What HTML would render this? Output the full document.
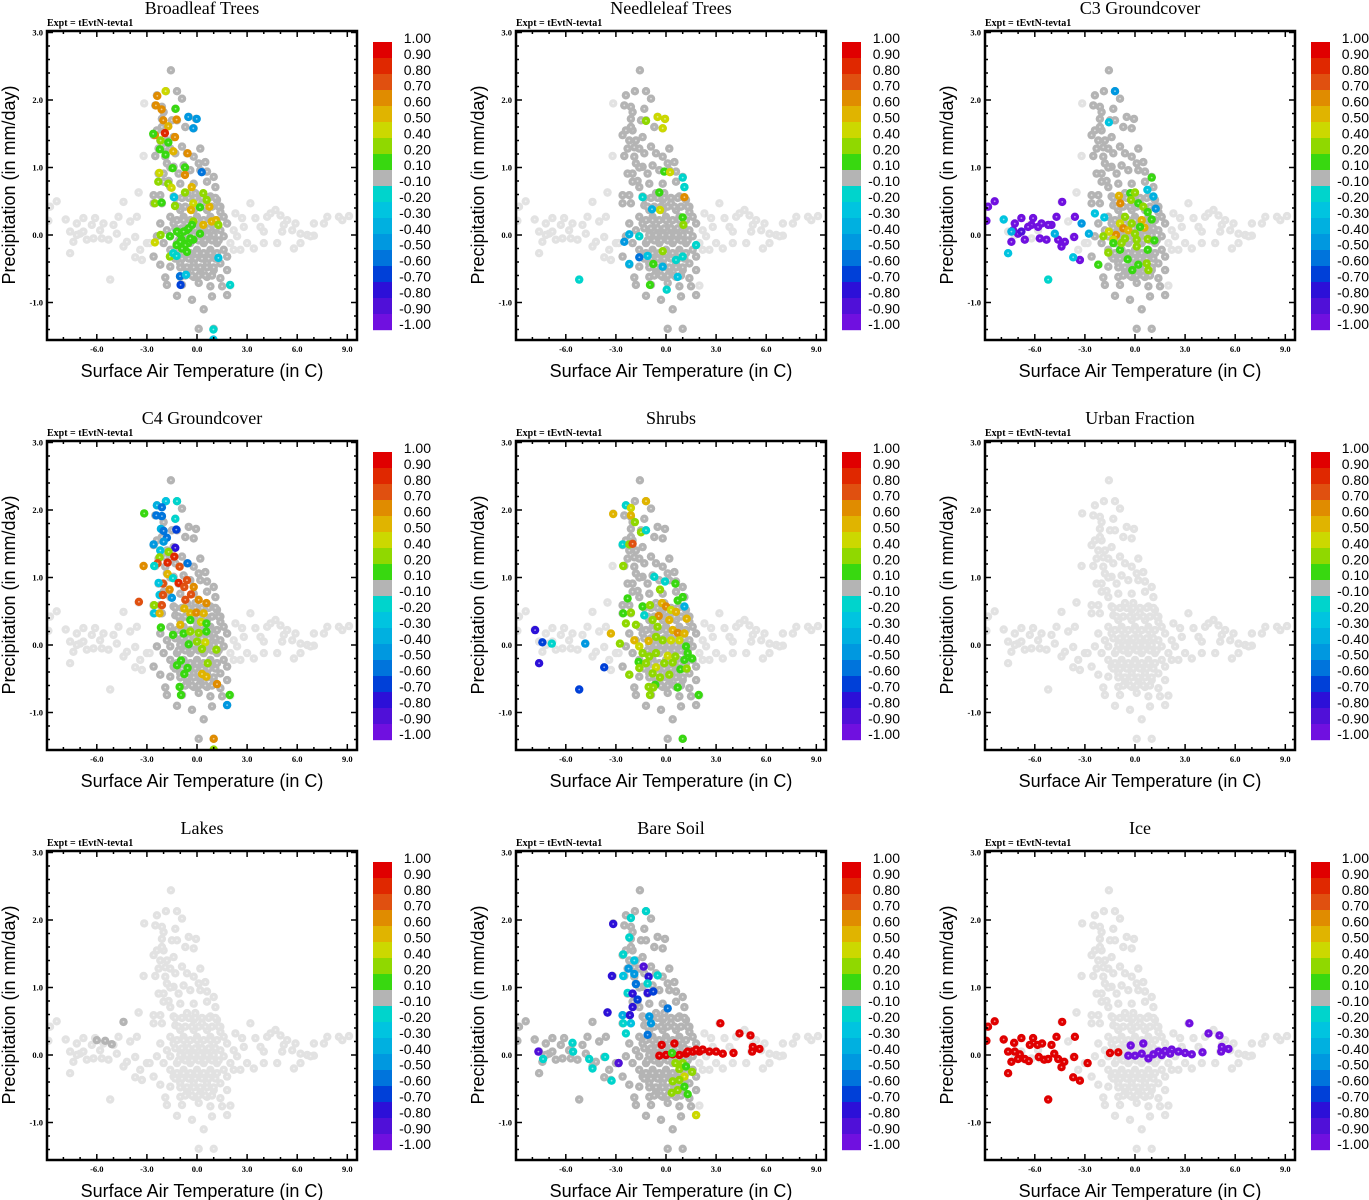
<!DOCTYPE html>
<html><head><meta charset="utf-8"><title>Surface Air Temperature vs Precipitation panels</title>
<style>
html,body{margin:0;padding:0;background:#fff;}
svg{display:block;}
.ttl{font-family:"Liberation Serif",serif;font-size:18px;}
.expt{font-family:"Liberation Serif",serif;font-size:10px;font-weight:bold;}
.tick{font-family:"Liberation Serif",serif;font-size:8.5px;font-weight:bold;}
.axt{font-family:"Liberation Sans",sans-serif;font-size:18px;}
.cbl{font-family:"Liberation Sans",sans-serif;font-size:14px;}
</style></head>
<body>
<svg id="fig" width="1369" height="1200" viewBox="0 0 1369 1200" xmlns="http://www.w3.org/2000/svg"></svg>
<script>
// ---- data ----
const panelTitles = ["Broadleaf Trees","Needleleaf Trees","C3 Groundcover","C4 Groundcover","Shrubs","Urban Fraction","Lakes","Bare Soil","Ice"];
const xTicks = [-6,-3,0,3,6,9];
const xTickLabels = ["-6.0","-3.0","0.0","3.0","6.0","9.0"];
const yTicks = [3,2,1,0,-1];
const yTickLabels = ["3.0","2.0","1.0","0.0","-1.0"];
const cbBounds = [1.0,0.9,0.8,0.7,0.6,0.5,0.4,0.2,0.1,-0.1,-0.2,-0.3,-0.4,-0.5,-0.6,-0.7,-0.8,-0.9,-1.0];
const cbLabels = ["1.00","0.90","0.80","0.70","0.60","0.50","0.40","0.20","0.10","-0.10","-0.20","-0.30","-0.40","-0.50","-0.60","-0.70","-0.80","-0.90","-1.00"];
const cbColors = ["#e00000","#e02800","#e05010","#e08c00","#e0b400","#ccd800","#90d800","#38d810","#b4b4b4","#00d4cc","#00c4e0","#00b0e0","#0098e0","#0074dc","#0040d8","#2c10d8","#5010d8","#7010e0"];

// base cloud (temperature C, precipitation mm/day) shown light grey in every panel
const baseT = [-1.56,-1.86,-1.2,-2.4,-0.9,-3.16,-2.5,-2.1,-1.3,-2.0,-2.1,-1.5,-0.5,-0.06,-1.2,-0.7,-0.2,-2.4,-2.0,-2.6,-1.4,-2.2,-1.8,-2.3,-1.6,-0.9,0.2,-1.3,-0.6,-3.2,-2.5,-1.9,-0.2,-1.8,-1.4,-0.8,0.1,0.5,-2.3,-2.0,-1.1,-0.4,0.2,0.6,1.0,-2.0,-1.6,-1.0,-0.2,0.6,1.1,-3.5,-2.6,-2.2,-1.4,-0.6,-0.1,0.8,-2.6,-2.1,-1.3,-0.2,0.3,1.2,1.4,
-1.0,-0.2,0.6,1.4,-1.6,-0.8,0.0,0.8,1.6,-2.2,-1.4,-0.6,0.2,1.0,1.8,-1.8,-1.0,-0.2,0.6,1.4,2.2,-2.4,-1.6,-0.8,0.0,0.8,1.6,-2.0,-1.2,-0.4,0.4,1.2,2.0,-1.6,-0.8,0.0,0.8,1.6,2.2,-1.4,-0.6,0.2,1.0,1.8,-1.0,-0.2,0.6,1.4,-2.2,-1.6,-0.6,0.2,1.0,1.8,-1.9,-1.0,-0.2,0.6,1.4,-1.8,-0.9,0.1,0.8,1.5,2.0,-1.2,-0.3,0.9,1.8,0.4,0.1,1.0,-3.4,-3.0,-2.6,-3.5,
-8.8,-8.4,-7.86,-8.9,-7.6,-7.2,-6.8,-7.4,-7.0,-6.6,-6.3,-6.1,-5.8,-5.6,-5.7,-5.3,-5.0,-4.8,-4.7,-4.4,-4.4,-4.2,-7.6,-5.2,-4.0,-3.6,-3.7,-3.3,-2.84,-3.7,-6.8,-6.2,-7.2,
2.3,2.7,3.2,3.5,3.8,4.2,4.4,4.7,5.0,5.2,5.4,5.7,5.9,6.2,5.8,6.2,6.6,7.0,7.6,7.8,8.5,8.7,9.1,4.8,4.0,3.0,2.6,3.4,2.4,2.8,4.0,5.1,7.0,6.8,
-1.3,-0.9,-0.5,-0.1,0.3,0.7,1.1,-1.1,-0.7,-0.3,0.1,0.5,0.9,1.3,-1.3,-0.9,-0.5,-0.1,0.3,0.7,1.1,-1.1,-0.7,-0.3,0.1,0.5,0.9,1.3,-1.3,-0.9,-0.5,-0.1,0.3,0.7,1.1,-0.7,-0.3,0.1,0.5,0.9,
-1.2,-0.8,-0.4,0.0,0.4,0.8,1.2,-1.0,-0.6,-0.2,0.2,0.6,1.0,-1.2,-0.8,-0.4,0.0,0.4,0.8,1.2,-1.0,-0.6,-0.2,0.2,0.6,1.0,-1.6,-1.9,-1.7,-2.1];
const baseP = [2.44,2.13,2.13,2.07,2.02,1.95,1.92,1.90,1.87,1.82,1.72,1.70,1.75,1.72,1.70,1.60,1.58,1.55,1.55,1.48,1.45,1.40,1.40,1.28,1.28,1.31,1.28,1.21,1.21,1.17,1.17,1.16,1.16,1.06,1.01,1.03,1.06,1.08,0.91,0.91,0.91,0.96,0.96,0.94,0.86,0.79,0.71,0.76,0.76,0.79,0.71,0.63,0.59,0.59,0.57,0.62,0.62,0.57,0.47,0.47,0.44,0.52,0.47,0.52,0.42,
0.37,0.37,0.37,0.34,0.27,0.27,0.27,0.27,0.27,0.17,0.17,0.17,0.17,0.17,0.17,0.07,0.07,0.07,0.07,0.07,0.07,-0.02,-0.02,-0.02,-0.02,-0.02,-0.02,-0.12,-0.12,-0.12,-0.12,-0.12,-0.12,-0.22,-0.22,-0.22,-0.22,-0.22,-0.22,-0.32,-0.32,-0.32,-0.32,-0.32,-0.42,-0.42,-0.42,-0.42,-0.44,-0.47,-0.52,-0.52,-0.52,-0.52,-0.63,-0.62,-0.62,-0.62,-0.64,-0.74,-0.74,-0.71,-0.76,-0.76,-0.75,-0.90,-0.96,-0.91,-0.89,-1.10,-1.39,-1.39,-0.22,-0.12,-0.32,0.63,
0.42,0.50,0.23,0.21,0.05,0.17,0.25,-0.10,0.02,-0.07,0.15,0.25,0.07,0.17,-0.05,-0.07,0.15,0.02,0.27,0.49,-0.17,-0.10,-0.27,-0.66,0.20,0.27,-0.03,-0.37,-0.12,-0.33,0.05,-0.05,0.0,
0.32,0.25,0.47,0.25,0.12,0.27,0.32,0.37,0.29,0.15,0.22,0.07,0.17,0.02,-0.20,-0.12,0.0,0.17,0.17,0.27,0.27,0.22,0.28,-0.12,-0.12,-0.12,-0.22,-0.20,-0.02,0.12,0.05,0.05,-0.01,-0.02,
0.55,0.55,0.55,0.55,0.55,0.55,0.55,0.42,0.42,0.42,0.42,0.42,0.42,0.42,0.1,0.1,0.1,0.1,0.1,0.1,0.1,-0.08,-0.08,-0.08,-0.08,-0.08,-0.08,-0.08,-0.35,-0.35,-0.35,-0.35,-0.35,-0.35,-0.35,-0.6,-0.6,-0.6,-0.6,-0.6,
0.22,0.22,0.22,0.22,0.22,0.22,0.22,0.0,0.0,0.0,0.0,0.0,0.0,-0.27,-0.27,-0.27,-0.27,-0.27,-0.27,-0.27,-0.48,-0.48,-0.48,-0.48,-0.48,-0.48,1.0,1.3,0.8,1.6];

// per-panel coloured points: temperature, precipitation, correlation value
const p1T = [-2.38,-1.88,-2.46,-2.12,-1.28,-2.02,-1.22,-1.72,-1.92,-2.52,-1.32,-2.62,-2.18,-1.72,-2.22,-1.42,-0.56,-1.88,-1.46,-0.72,-2.26,-0.72,-2.32,-1.72,-1.52,-0.32,-2.52,-2.12,-1.32,-0.72,0.38,-0.22,-0.36,0.18,0.74,0.58,-0.22,0.38,0.88,1.14,1.28,-2.52,-2.18,-1.62,-1.02,-0.62,-0.92,-0.52,-0.22,0.18,-1.22,-1.62,-0.52,-0.02,-0.22,0.28,-1.38,-1.42,-1.22,1.28,-1.02,-0.66,-0.98,1.98,0.98,0.98,-1.0,-0.7,-0.4,-0.8,-0.5,-1.2,-0.3,-0.9,-0.6];
const p1P = [2.06,2.13,1.92,1.86,1.87,1.70,1.71,1.61,1.51,1.48,1.45,1.50,1.40,1.37,1.27,1.24,1.21,1.19,0.99,1.00,0.92,0.89,0.79,0.76,0.70,0.71,0.47,0.48,0.43,0.63,0.62,0.47,0.37,0.41,0.42,0.52,0.20,0.15,0.20,0.22,0.15,-0.11,0.0,-0.02,0.02,0.07,-0.07,-0.12,-0.07,0.02,-0.15,-0.32,1.75,1.72,1.58,0.93,0.56,-0.27,-0.31,-0.34,-0.61,-0.59,-0.74,-0.74,-1.40,-1.55,-0.1,-0.15,-0.05,0.05,0.1,0.05,0.15,-0.2,-0.25];
const p1V = [0.6,0.4,0.6,0.6,0.1,0.6,0.6,0.5,0.8,0.6,0.6,0.1,0.2,0.1,0.1,0.5,0.6,0.1,0.1,0.1,0.4,0.6,0.2,0.2,0.4,0.5,0.2,0.1,0.2,0.2,0.2,0.4,0.5,0.1,0.5,0.2,0.2,0.5,0.5,0.5,0.2,0.4,0.2,0.1,0.1,0.1,0.1,0.1,0.1,0.1,0.1,0.2,-0.5,-0.5,-0.5,-0.6,-0.3,-0.2,-0.2,-0.3,-0.6,-0.3,-0.7,-0.2,-0.2,-0.3,0.1,0.1,0.1,0.1,0.1,0.1,0.1,0.1,0.1];

const p2T = [-1.2,-0.5,-0.06,-0.2,-0.1,0.24,1.0,1.1,1.1,-0.4,-1.4,-0.36,-0.84,1.0,1.04,-2.2,-2.5,-1.6,-0.2,-2.2,-1.6,-0.76,-0.96,0.04,-5.2,0.6,1.0,-0.2,1.8,-1.1,0.7];
const p2P = [1.69,1.75,1.72,1.58,0.94,0.93,0.85,0.71,0.56,0.63,0.56,0.37,0.38,0.26,0.15,0.01,-0.10,-0.02,-0.24,-0.43,-0.33,-0.43,-0.74,-0.81,-0.66,-0.37,-0.32,-0.47,-0.15,-0.31,-0.62];
const p2V = [0.2,0.4,0.4,0.4,0.1,0.4,-0.2,-0.2,0.6,0.1,-0.2,0.4,-0.4,0.1,0.2,-0.4,-0.5,-0.2,0.2,-0.4,-0.6,0.1,0.1,-0.2,-0.2,-0.2,-0.2,-0.4,-0.2,-0.3,-0.3];

const p3T = [-8.8,-8.4,-8.9,-7.2,-6.8,-7.3,-7.0,-7.4,-6.6,-6.2,-6.1,-5.8,-5.6,-5.7,-5.3,-5.0,-4.7,-4.36,-4.6,-4.2,-4.4,-3.6,-3.64,-3.3,-6.8,-6.4,-5.2,
-7.86,-7.4,-7.6,-5.2,-4.8,-3.7,-2.76,-2.4,-1.84,-1.56,0.74,1.1,-1.2,-3.2,1.24,
1.0,-0.28,0.0,-0.24,0.2,0.5,0.76,1.0,-0.96,-0.88,-0.9,0.4,0.56,-0.7,-0.4,-1.14,-1.56,-1.9,-1.3,-0.6,0.0,0.1,0.76,1.16,-1.3,-0.9,-0.44,0.1,0.76,-1.6,-2.2,-0.16,0.2,0.7,0.8,-0.2,0.3,-0.6,-0.8];
const p3P = [0.42,0.50,0.21,0.17,0.25,0.07,0.02,-0.10,-0.07,0.15,0.25,0.12,0.17,-0.05,-0.07,0.15,0.27,0.49,-0.07,-0.10,-0.17,0.27,-0.03,-0.37,0.05,0.12,0.15,
0.23,0.05,-0.27,-0.66,0.02,-0.33,0.02,0.32,0.26,1.67,0.67,0.57,2.13,0.17,0.39,
0.85,0.62,0.63,0.52,0.47,0.42,0.34,0.23,0.58,0.47,0.17,0.22,0.11,0.10,0.07,0.0,0.05,-0.02,-0.07,-0.05,0.02,-0.07,-0.06,-0.08,-0.12,-0.22,-0.36,-0.17,-0.22,-0.26,-0.44,-0.52,-0.44,-0.42,-0.52,0.17,0.12,0.27,-0.12];
const p3V = [-0.95,-0.95,-0.95,-0.95,-0.95,-0.95,-0.95,-0.95,-0.95,-0.95,-0.95,-0.95,-0.95,-0.95,-0.95,-0.95,-0.95,-0.95,-0.95,-0.95,-0.95,-0.95,-0.95,-0.95,-0.9,-0.95,-0.95,
-0.3,-0.4,-0.3,-0.2,-0.4,-0.3,-0.4,-0.3,-0.3,-0.3,-0.3,-0.4,-0.5,-0.5,-0.5,
0.1,0.1,0.2,0.2,0.1,0.2,0.1,0.1,0.5,0.6,0.4,0.5,0.5,0.6,0.5,0.6,0.4,0.2,0.4,0.2,0.2,0.2,0.2,0.1,0.1,0.1,0.1,0.2,0.1,0.2,0.1,0.1,0.1,0.2,0.2,0.2,0.1,0.2,0.2];

const p4T = [-3.2,-3.16,-2.4,-1.86,-1.2,-2.1,-2.44,-2.1,-1.3,-2.16,-2.0,-1.24,-1.8,-2.0,-2.6,-2.2,-1.3,-1.7,-2.24,-1.36,-1.76,-2.36,-2.56,-1.04,-0.56,-1.76,-1.44,-1.1,-0.6,-0.2,-0.76,-2.04,-2.3,-1.64,-2.24,-2.04,-1.5,-0.36,-0.7,0.1,0.56,-3.48,-2.56,-2.1,-2.56,-2.24,-0.76,-0.4,-0.04,0.4,-1.0,-0.4,0.24,0.56,-2.16,-1.44,-0.8,-0.4,0.1,0.56,-0.5,0.0,0.5,0.3,1.16,-0.96,-1.2,-0.56,-0.76,0.64,0.3,0.56,1.2,-1.04,-0.96,1.96,1.8,1.0,1.0];
const p4P = [1.17,1.95,2.07,2.13,2.13,2.04,1.92,1.91,1.87,1.72,1.69,1.71,1.59,1.53,1.49,1.40,1.44,1.38,1.30,1.31,1.22,1.21,1.17,1.16,1.21,1.05,0.99,0.92,0.96,0.86,0.86,0.91,0.92,0.82,0.74,0.74,0.70,0.75,0.67,0.67,0.62,0.64,0.59,0.59,0.47,0.47,0.54,0.47,0.48,0.47,0.30,0.37,0.34,0.32,0.26,0.15,0.17,0.20,0.18,0.20,0.01,0.05,0.04,-0.06,-0.07,-0.23,-0.30,-0.34,-0.43,-0.27,-0.43,-0.47,-0.58,-0.62,-0.74,-0.74,-0.89,-1.39,-1.55];
const p4V = [0.6,0.1,-0.4,-0.3,-0.2,-0.6,-0.6,-0.6,-0.2,-0.4,-0.6,-0.7,-0.6,-0.5,-0.5,-0.3,-0.8,0.2,0.2,0.8,0.8,0.7,-0.2,0.7,-0.6,0.5,-0.2,0.8,0.7,0.6,0.7,0.7,-0.3,0.6,-0.3,0.7,-0.5,0.7,0.7,0.6,0.6,0.7,0.2,0.7,-0.3,0.5,0.5,0.5,0.6,0.5,0.5,0.1,0.4,0.1,0.1,0.1,0.1,0.2,0.2,0.1,0.1,0.2,0.4,0.2,0.2,0.1,0.1,0.1,0.1,0.2,0.5,0.5,0.6,0.1,0.1,0.1,-0.5,0.6,0.2];

const p5T = [-1.2,-2.4,-2.1,-3.16,-2.1,-1.86,-1.5,-1.2,-2.6,-2.2,-2.0,-2.56,-0.7,-0.06,-0.36,0.56,1.0,0.7,1.1,-2.3,-1.4,-0.96,-0.24,0.0,0.3,0.6,1.24,-2.56,-2.1,-1.3,-0.44,0.2,-2.4,-1.8,-0.8,-0.5,0.4,0.7,1.1,-3.3,-2.76,-1.9,-1.6,-1.04,-0.6,-0.2,0.3,0.8,1.2,1.3,1.56,-1.4,-1.0,-0.6,0.1,0.56,1.1,-1.64,-1.2,-0.6,-0.1,0.4,0.86,1.24,-2.2,-1.6,-0.8,-0.36,0.2,-0.64,-1.04,-0.76,0.7,-0.96,1.96,1.0,-7.84,-7.4,-6.84,-7.6,-4.84,-3.7,-5.2];
const p5P = [2.13,2.07,2.03,1.94,1.92,1.82,1.67,1.70,1.49,1.49,1.50,1.17,1.01,0.94,0.82,0.91,0.71,0.66,0.57,0.69,0.57,0.59,0.62,0.57,0.52,0.49,0.39,0.47,0.48,0.44,0.43,0.37,0.32,0.30,0.37,0.27,0.22,0.18,0.17,0.17,0.02,0.07,-0.02,0.06,0.12,0.07,0.07,0.07,-0.02,-0.12,-0.20,-0.12,-0.17,-0.12,-0.16,-0.17,-0.22,-0.25,-0.27,-0.33,-0.27,-0.26,-0.36,-0.35,-0.44,-0.34,-0.42,-0.48,-0.44,-0.59,-0.62,-0.63,-0.63,-0.74,-0.74,-1.39,0.22,0.04,0.02,-0.27,0.02,-0.33,-0.66];
const p5V = [0.5,-0.2,0.4,0.5,0.5,0.2,0.2,-0.2,-0.2,0.2,0.7,0.2,-0.2,-0.2,0.2,0.1,0.1,0.1,-0.4,0.1,0.1,0.2,0.5,0.6,0.4,0.5,0.5,0.1,0.2,-0.2,0.6,0.5,0.2,0.2,0.2,0.2,0.5,0.6,0.5,0.5,0.2,0.5,0.4,0.5,0.2,0.2,0.4,0.4,0.1,0.1,0.1,0.2,0.2,0.2,0.4,0.3,0.1,0.1,0.2,0.4,0.2,0.2,0.1,0.2,0.2,0.2,0.2,0.2,0.2,0.1,0.2,0.2,0.1,0.2,0.1,0.1,-0.8,-0.7,-0.2,-0.8,-0.5,-0.7,-0.7];

const p6T = [];
const p6P = [];
const p6V = [];

const p7T = [-6.0,-5.5,-5.1,-4.4];
const p7P = [0.22,0.21,0.16,0.49];
const p7V = [0.0,0.0,0.0,0.0];

const p8T = [-0.26,0.5,-0.4,0.0,0.4,0.8,1.2,1.6,2.0,2.2,2.6,3.0,3.4,4.04,3.26,4.4,5.06,5.2,5.6,5.16,1.3,1.8,
0.36,0.56,1.0,0.8,1.2,1.56,1.1,0.8,0.4,0.7,0.34,1.1,1.3,1.8,
-3.16,-1.2,-2.1,-2.2,-2.56,-1.9,-2.24,-1.34,-3.24,-2.56,-1.9,-1.04,-0.5,-1.8,-1.1,-2.3,-2.0,-1.1,-0.76,-1.7,-2.0,-3.5,-2.6,-2.16,-2.56,-2.1,-1.0,-0.9,-2.4,-1.1,0.1,-5.6,-7.64,-7.36,-4.6,-4.4,-3.64,-2.84,-3.26,-5.56];
const p8P = [0.15,0.17,-0.01,0.0,0.01,0.0,0.02,0.05,0.05,0.08,0.05,0.05,0.02,0.03,0.47,0.32,0.29,0.12,0.09,0.05,0.05,0.08,
0.03,-0.12,-0.12,-0.21,-0.17,-0.25,-0.32,-0.37,-0.39,-0.52,-0.56,-0.47,-0.58,-0.89,
1.94,2.13,2.03,1.74,1.49,1.40,1.28,1.31,1.17,1.17,1.20,1.16,1.18,1.05,1.06,0.92,0.91,0.92,0.94,0.82,0.71,0.63,0.59,0.59,0.47,0.47,0.57,0.47,0.32,0.30,0.69,0.18,0.05,-0.06,-0.06,-0.20,-0.03,-0.12,-0.38,0.05];
const p8V = [1.0,1.0,1.0,1.0,1.0,1.0,1.0,1.0,1.0,1.0,1.0,1.0,1.0,1.0,1.0,1.0,1.0,1.0,1.0,1.0,1.0,1.0,
0.1,0.2,0.2,0.2,0.1,0.2,0.4,0.2,0.2,0.2,0.2,0.1,0.1,0.4,
-0.8,-0.2,-0.2,-0.2,-0.2,-0.3,-0.5,-0.9,-0.8,-0.3,-0.5,-0.8,-0.2,-0.6,-0.2,-0.2,-0.8,-0.8,-0.7,-0.7,-0.8,-0.8,-0.4,-0.8,-0.2,-0.3,-0.5,-0.5,-0.2,-0.6,-0.6,-0.2,-0.9,-0.2,-0.2,-0.2,-0.2,-0.9,-0.2,-0.2];

const p9T = [-8.8,-8.4,-8.9,-7.86,-7.24,-6.8,-7.6,-7.2,-6.9,-7.4,-7.0,-6.6,-6.36,-7.6,-6.3,-6.1,-5.84,-5.56,-5.76,-5.44,-5.2,-5.0,-4.84,-4.7,-4.36,-4.6,-4.24,-4.4,-3.6,-3.64,-3.7,-3.3,-2.84,-5.2,-1.5,-1.0,
-0.26,0.5,-0.4,0.0,0.4,0.8,1.1,1.4,1.8,2.2,2.6,3.0,3.4,4.04,3.26,4.4,5.06,5.2,5.6,5.16,1.6,2.1];
const p9P = [0.42,0.50,0.21,0.23,0.18,0.25,0.05,0.05,0.01,-0.10,-0.06,-0.06,-0.09,-0.27,0.15,0.25,0.15,0.17,-0.03,-0.07,-0.06,0.15,0.02,0.27,0.49,-0.06,-0.10,-0.18,0.27,-0.03,-0.33,-0.38,-0.12,-0.66,0.03,0.04,
0.14,0.17,-0.01,-0.01,0.02,-0.05,0.01,0.05,0.06,0.08,0.05,0.03,0.01,0.04,0.47,0.32,0.29,0.12,0.09,0.05,0.0,0.02];
const p9V = [1.0,1.0,1.0,1.0,1.0,1.0,1.0,1.0,1.0,1.0,1.0,1.0,1.0,1.0,1.0,1.0,1.0,1.0,1.0,1.0,1.0,1.0,1.0,1.0,1.0,1.0,1.0,1.0,1.0,1.0,1.0,1.0,1.0,1.0,1.0,1.0,
-0.95,-0.95,-0.95,-0.95,-0.95,-0.95,-0.95,-0.95,-0.95,-0.95,-0.95,-0.95,-0.95,-0.95,-0.95,-0.95,-0.95,-0.95,-0.95,-0.95,-0.95,-0.95];

// panels whose near-zero (grey) band covers the central column; extent in C
const greyBandMin = [-2.8,-2.8,-2.8,-2.8,-2.8,99,99,-9.5,99];
const greyBandMax = [1.8,1.8,1.8,1.8,1.8,-99,-99,1.8,-99];
</script>
<script>
const NS="http://www.w3.org/2000/svg";
const svg=document.getElementById('fig');
const panelT=[p1T,p2T,p3T,p4T,p5T,p6T,p7T,p8T,p9T];
const panelP=[p1P,p2P,p3P,p4P,p5P,p6P,p7P,p8P,p9P];
const panelV=[p1V,p2V,p3V,p4V,p5V,p6V,p7V,p8V,p9V];
function mk(tag,attrs,parent){const e=document.createElementNS(NS,tag);for(const k in attrs)e.setAttribute(k,attrs[k]);(parent||svg).appendChild(e);return e;}
function colorFor(v){
  if(v>=cbBounds[0])return cbColors[0];
  for(let i=0;i<cbColors.length;i++){if(cbBounds[i]>v&&v>=cbBounds[i+1]-1e-9)return cbColors[i];}
  return cbColors[cbColors.length-1];
}
const KX=16.7, KY=67.5, R=4.2;
for(let pi=0;pi<9;pi++){
  const ox=(pi%3)*469, oy=Math.floor(pi/3)*410;
  const xS=t=>197+ox+t*KX;
  const yS=p=>235+oy-p*KY;
  const g=mk('g',{});
  
  
  const title=mk('text',{x:202+ox,y:14+oy,'text-anchor':'middle',class:'ttl'},g);
  title.textContent=panelTitles[pi];
  
  
  const ex=mk('text',{x:47+ox,y:26+oy,class:'expt'},g);
  ex.textContent='Expt = tEvtN-tevta1';
  
  
  const cid='clip'+pi;
  const cp=mk('clipPath',{id:cid},g);
  mk('rect',{x:47+ox,y:31+oy,width:310,height:309},cp);
  const pts=mk('g',{'clip-path':'url(#'+cid+')'},g);
  
  
  function dot(t,p,col){
    const c=mk('circle',{cx:xS(t).toFixed(1),cy:yS(p).toFixed(1),r:R,fill:col},pts);
    
    
    mk('circle',{cx:xS(t).toFixed(1),cy:yS(p).toFixed(1),r:0.9,fill:'#fff','fill-opacity':0.55},pts);
  }
  for(let i=0;i<baseT.length;i++) dot(baseT[i],baseP[i],'#e2e2e2');
  for(let i=0;i<baseT.length;i++){
    if(baseT[i]>=greyBandMin[pi]&&baseT[i]<=greyBandMax[pi]) dot(baseT[i],baseP[i],colorFor(0));
  }
  const T=panelT[pi],P=panelP[pi],V=panelV[pi];
  for(let i=0;i<T.length;i++) dot(T[i],P[i],colorFor(V[i]));
  const fr=mk('rect',{x:47+ox,y:31+oy,width:310,height:309,fill:'none',stroke:'#000','stroke-width':2.5},g);
  
  
  for(let t=-9;t<=9;t++){
    const x=xS(t); if(x<48+ox||x>356+ox)continue;
    const L=(t%3===0)?6:3;
    mk('line',{x1:x,y1:340+oy,x2:x,y2:340+oy-L,stroke:'#000','stroke-width':1.5},g);
    mk('line',{x1:x,y1:31+oy,x2:x,y2:31+oy+L,stroke:'#000','stroke-width':1.5},g);
  }
  for(let k=0;k<xTicks.length;k++){
    const tl=mk('text',{x:xS(xTicks[k]),y:352+oy,'text-anchor':'middle',class:'tick'},g);
    tl.textContent=xTickLabels[k];
    
    
  }
  for(let m=-7;m<=15;m++){
    const p=m*0.2; const y=yS(p); if(y<32+oy||y>339+oy)continue;
    const L=(m%5===0)?6:3;
    mk('line',{x1:47+ox,y1:y,x2:47+ox+L,y2:y,stroke:'#000','stroke-width':1.5},g);
    mk('line',{x1:357+ox,y1:y,x2:357+ox-L,y2:y,stroke:'#000','stroke-width':1.5},g);
  }
  for(let k=0;k<yTicks.length;k++){
    const tl=mk('text',{x:43+ox,y:yS(yTicks[k])+3,'text-anchor':'end',class:'tick'},g);
    tl.textContent=yTickLabels[k];
    
    
  }
  const xt=mk('text',{x:202+ox,y:377+oy,'text-anchor':'middle',class:'axt'},g);
  xt.textContent='Surface Air Temperature (in C)';
  
  
  const yt=mk('text',{x:0,y:0,'text-anchor':'middle',class:'axt',transform:'translate('+(15+ox)+','+(185+oy)+') rotate(-90)'},g);
  yt.textContent='Precipitation (in mm/day)';
  
  
  const cb=mk('g',{},g);
  
  
  for(let i=0;i<cbColors.length;i++){
    const r=mk('rect',{x:373+ox,y:42+oy+i*16,width:19,height:16.2,fill:cbColors[i]},cb);
    
    
  }
  for(let i=0;i<cbLabels.length;i++){
    const l=mk('text',{x:431+ox,y:43+oy+i*15.9,'text-anchor':'end',class:'cbl'},cb);
    l.textContent=cbLabels[i];
    
    
  }
}
</script>
</body></html>
